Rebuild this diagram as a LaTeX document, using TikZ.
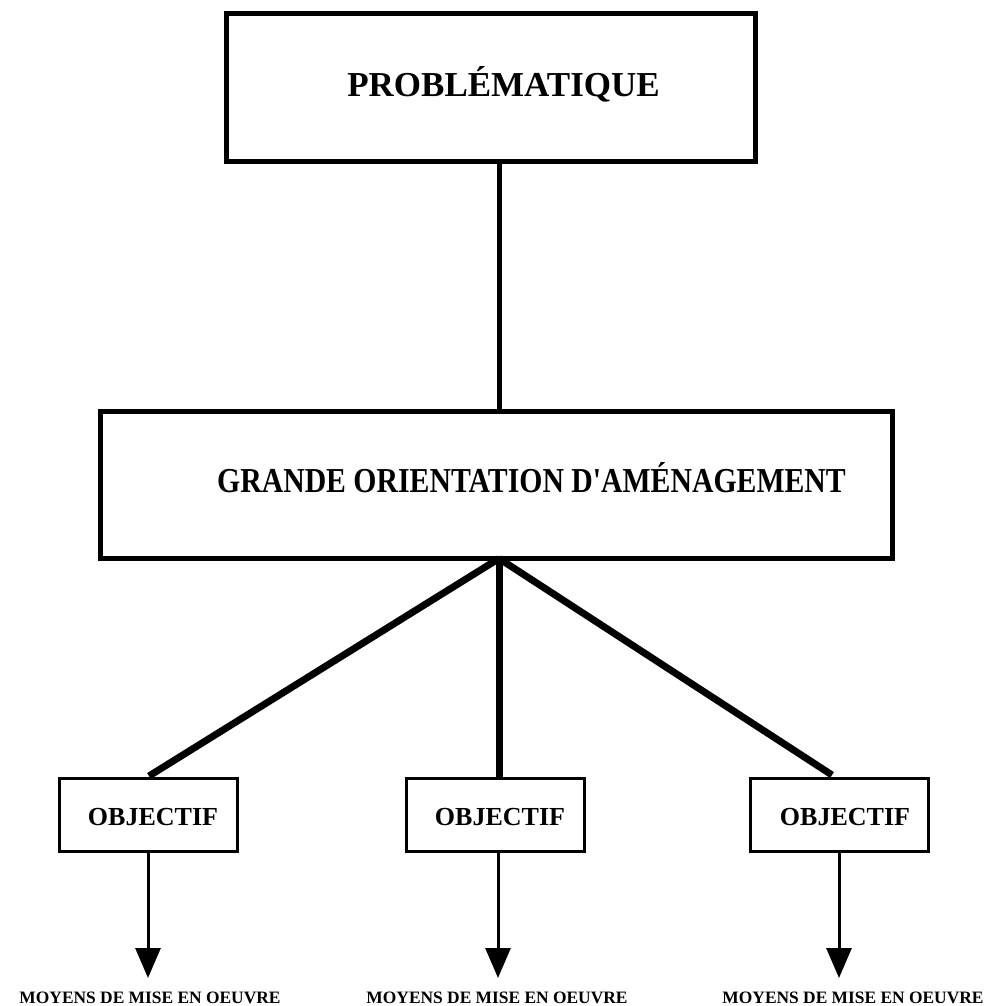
\documentclass[tikz,border=0pt]{standalone}
\usepackage{fontspec}
\setmainfont{Liberation Serif}
\newfontfamily\condserif[FakeStretch=0.85]{Liberation Serif}
\usetikzlibrary{arrows.meta}
\begin{document}
\begin{tikzpicture}[x=1pt,y=-1pt,
  bigbox/.style={draw, line width=5pt, inner sep=0pt, outer sep=0pt},
  objbox/.style={draw, line width=3pt, minimum width=178pt, minimum height=73pt, inner sep=0pt, outer sep=0pt},
  txt/.style={anchor=base, inner sep=0pt},
  probfont/.style={txt, font=\fontsize{35}{40}\selectfont\bfseries},
  orientfont/.style={txt, font=\condserif\fontsize{35}{40}\selectfont\bfseries},
  objfont/.style={txt, font=\fontsize{26}{30}\selectfont\bfseries},
  moyfont/.style={txt, font=\fontsize{17.4}{20}\selectfont\bfseries},
  vline/.style={line width=5pt},
  thickline/.style={line width=7pt},
  arrowline/.style={line width=3pt, -{Triangle[length=30pt,width=25pt]}}]
\useasboundingbox (0,0) rectangle (984,1006);
% boxes
\node[bigbox, minimum width=529pt, minimum height=148pt] (prob) at (491,87.5) {};
\node[probfont] (probt) at (503.5,97) {PROBLÉMATIQUE};
\node[bigbox, minimum width=792pt, minimum height=147pt] (orient) at (496.5,485) {};
\node[orientfont] (orientt) at (531.5,492) {GRANDE ORIENTATION D'AMÉNAGEMENT};
\node[objbox] (o1) at (148.5,815) {};
\node[objbox] (o2) at (495.5,815) {};
\node[objbox] (o3) at (839.5,815) {};
\node[objfont] (o1t) at (153,825) {OBJECTIF};
\node[objfont] (o2t) at (500,825) {OBJECTIF};
\node[objfont] (o3t) at (845,825) {OBJECTIF};
% connector anchors
\coordinate (jx) at (499,0);
\coordinate (hub) at (orient.south -| jx);
\coordinate (e1) at (149,776);
\coordinate (e3) at (832,775);
\coordinate (t1) at (148,978);
\coordinate (t2) at (498,978);
\coordinate (t3) at (839,978);
% connectors
\draw[vline] (prob.south -| jx) -- (orient.north -| jx);
\draw[thickline] (hub) -- (e1);
\draw[thickline] (hub) -- (o2.north -| jx);
\draw[thickline] (hub) -- (e3);
\draw[arrowline] (o1.south -| t1) -- (t1);
\draw[arrowline] (o2.south -| t2) -- (t2);
\draw[arrowline] (o3.south -| t3) -- (t3);
% bottom labels
\node[moyfont] (m1) at (150,1003) {MOYENS DE MISE EN OEUVRE};
\node[moyfont] (m2) at (497,1003) {MOYENS DE MISE EN OEUVRE};
\node[moyfont] (m3) at (853,1003) {MOYENS DE MISE EN OEUVRE};
\end{tikzpicture}
\end{document}
